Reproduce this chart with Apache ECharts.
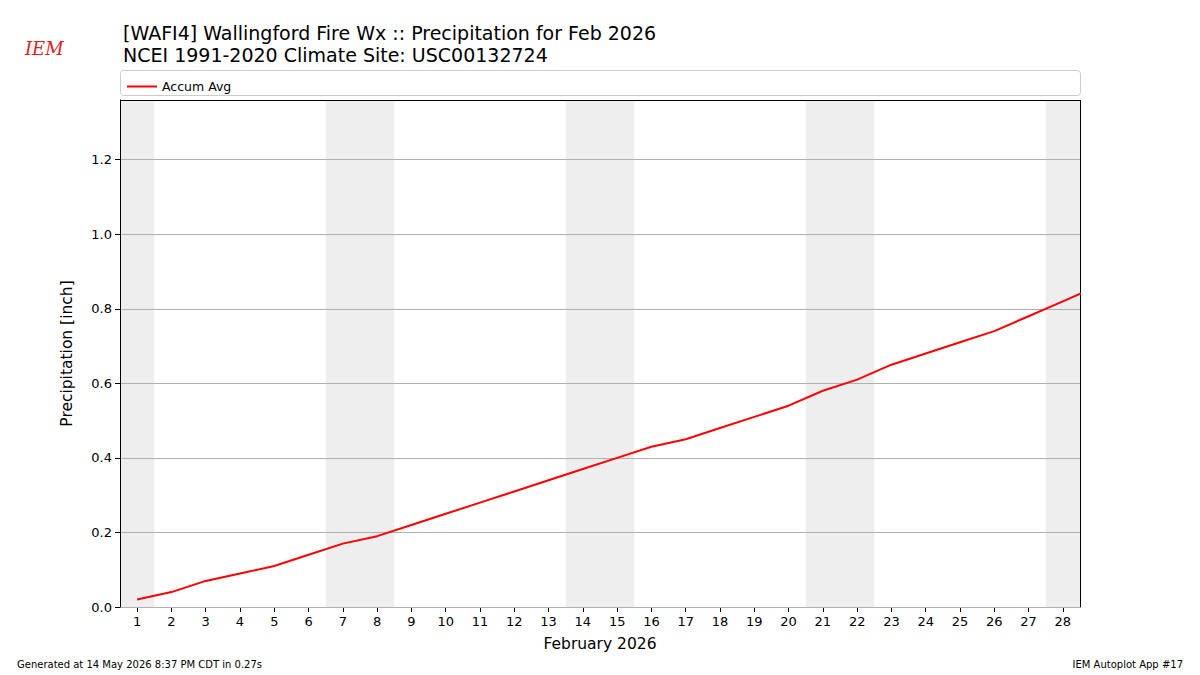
<!DOCTYPE html>
<html>
<head>
<meta charset="utf-8">
<script src="https://cdn.jsdelivr.net/npm/echarts@6/dist/echarts.min.js"></script>
<style>html,body{margin:0;padding:0;background:#fff}#chart{width:1200px;height:675px}</style>
</head>
<body>
<div id="chart"></div>
<script>
var days = [1, 2, 3, 4, 5, 6, 7, 8, 9, 10, 11, 12, 13, 14, 15, 16, 17, 18, 19, 20, 21, 22, 23, 24, 25, 26, 27, 28, 29];
var accumAvg = [0.02, 0.04, 0.07, 0.09, 0.11, 0.14, 0.17, 0.19, 0.22, 0.25, 0.28, 0.31, 0.34, 0.37, 0.40, 0.43, 0.45, 0.48, 0.51, 0.54, 0.58, 0.61, 0.65, 0.68, 0.71, 0.74, 0.78, 0.82, 0.86];
var weekends = [[0.5, 1.5], [6.5, 8.5], [13.5, 15.5], [20.5, 22.5], [27.5, 28.5]];
var yTicks = [0, 0.2, 0.4, 0.6, 0.8, 1.0, 1.2];
var xTicks = days.slice(0, 28);

var font = 'DejaVu Sans';
var chart = echarts.init(document.getElementById('chart'), null, { renderer: 'svg' });

chart.setOption({
  animation: false,
  textStyle: { fontFamily: font },
  title: [
    { text: '[WAFI4] Wallingford Fire Wx :: Precipitation for Feb 2026\nNCEI 1991-2020 Climate Site: USC00132724',
      left: 118, top: 17, textStyle: { fontSize: 19, fontWeight: 'normal', color: '#000', lineHeight: 22, fontFamily: font } },
    { text: 'Generated at 14 May 2026 8:37 PM CDT in 0.27s', left: 12, bottom: 1,
      textStyle: { fontSize: 10, fontWeight: 'normal', color: '#000', fontFamily: font } },
    { text: 'IEM Autoplot App #17', right: 12, bottom: 1,
      textStyle: { fontSize: 10, fontWeight: 'normal', color: '#000', fontFamily: font } },
    { text: 'IEM', left: 20, top: 34, textStyle: { fontSize: 18, fontStyle: 'italic', fontWeight: 'normal', color: '#d22', fontFamily: 'DejaVu Serif' } }
  ],
  graphic: [
    { type: 'rect', shape: { x: 120.5, y: 70.5, width: 960, height: 25, r: 3 },
      style: { fill: '#fff', stroke: '#ccc', lineWidth: 1 } }
  ],
  legend: {
    left: 122, top: 75, itemWidth: 30, itemHeight: 2, icon: 'rect',
    textStyle: { fontSize: 12.5, color: '#000' },
    data: ['Accum Avg']
  },
  grid: { left: 120, right: 120, top: 100, bottom: 68 },
  xAxis: {
    type: 'value', min: 0.5, max: 28.5,
    name: 'February 2026', nameLocation: 'middle', nameGap: 29,
    nameTextStyle: { fontSize: 15.5, color: '#000' },
    axisLine: { onZero: false, lineStyle: { color: '#000' } },
    axisTick: { show: true, customValues: xTicks, lineStyle: { color: '#000' } },
    axisLabel: { color: '#000', fontSize: 13, customValues: xTicks },
    splitLine: { show: false }
  },
  yAxis: {
    type: 'value', min: 0, max: 1.36, interval: 0.2, z: 3,
    name: 'Precipitation [inch]', nameLocation: 'middle', nameGap: 45,
    nameTextStyle: { fontSize: 15.5, color: '#000' },
    axisLine: { show: true, lineStyle: { color: '#000' } },
    axisTick: { show: true, customValues: yTicks, lineStyle: { color: '#000' } },
    axisLabel: { color: '#000', fontSize: 13, customValues: yTicks,
      formatter: function (v) { return v.toFixed(1); } },
    splitLine: { lineStyle: { color: '#b0b0b0' } }
  },
  series: [{
    type: 'line', data: [], silent: true, z: 1,
    markArea: {
      silent: true,
      itemStyle: { color: '#eeeeee' },
      data: weekends.map(function (w) { return [{ xAxis: w[0] }, { xAxis: w[1] }]; })
    }
  }, {
    name: 'Accum Avg', type: 'line', showSymbol: false, clip: true, z: 5,
    lineStyle: { color: '#ff0000', width: 2 }, itemStyle: { color: '#ff0000' },
    data: days.map(function (d, i) { return [d, accumAvg[i]]; })
  }, {
    type: 'line', data: [], silent: true, z: 5,
    markLine: { symbol: 'none', silent: true, label: { show: false },
      lineStyle: { color: '#000', type: 'solid', width: 1 },
      data: [{ xAxis: 28.5 }, { yAxis: 1.36 }] }
  }]
});
</script>
</body>
</html>
